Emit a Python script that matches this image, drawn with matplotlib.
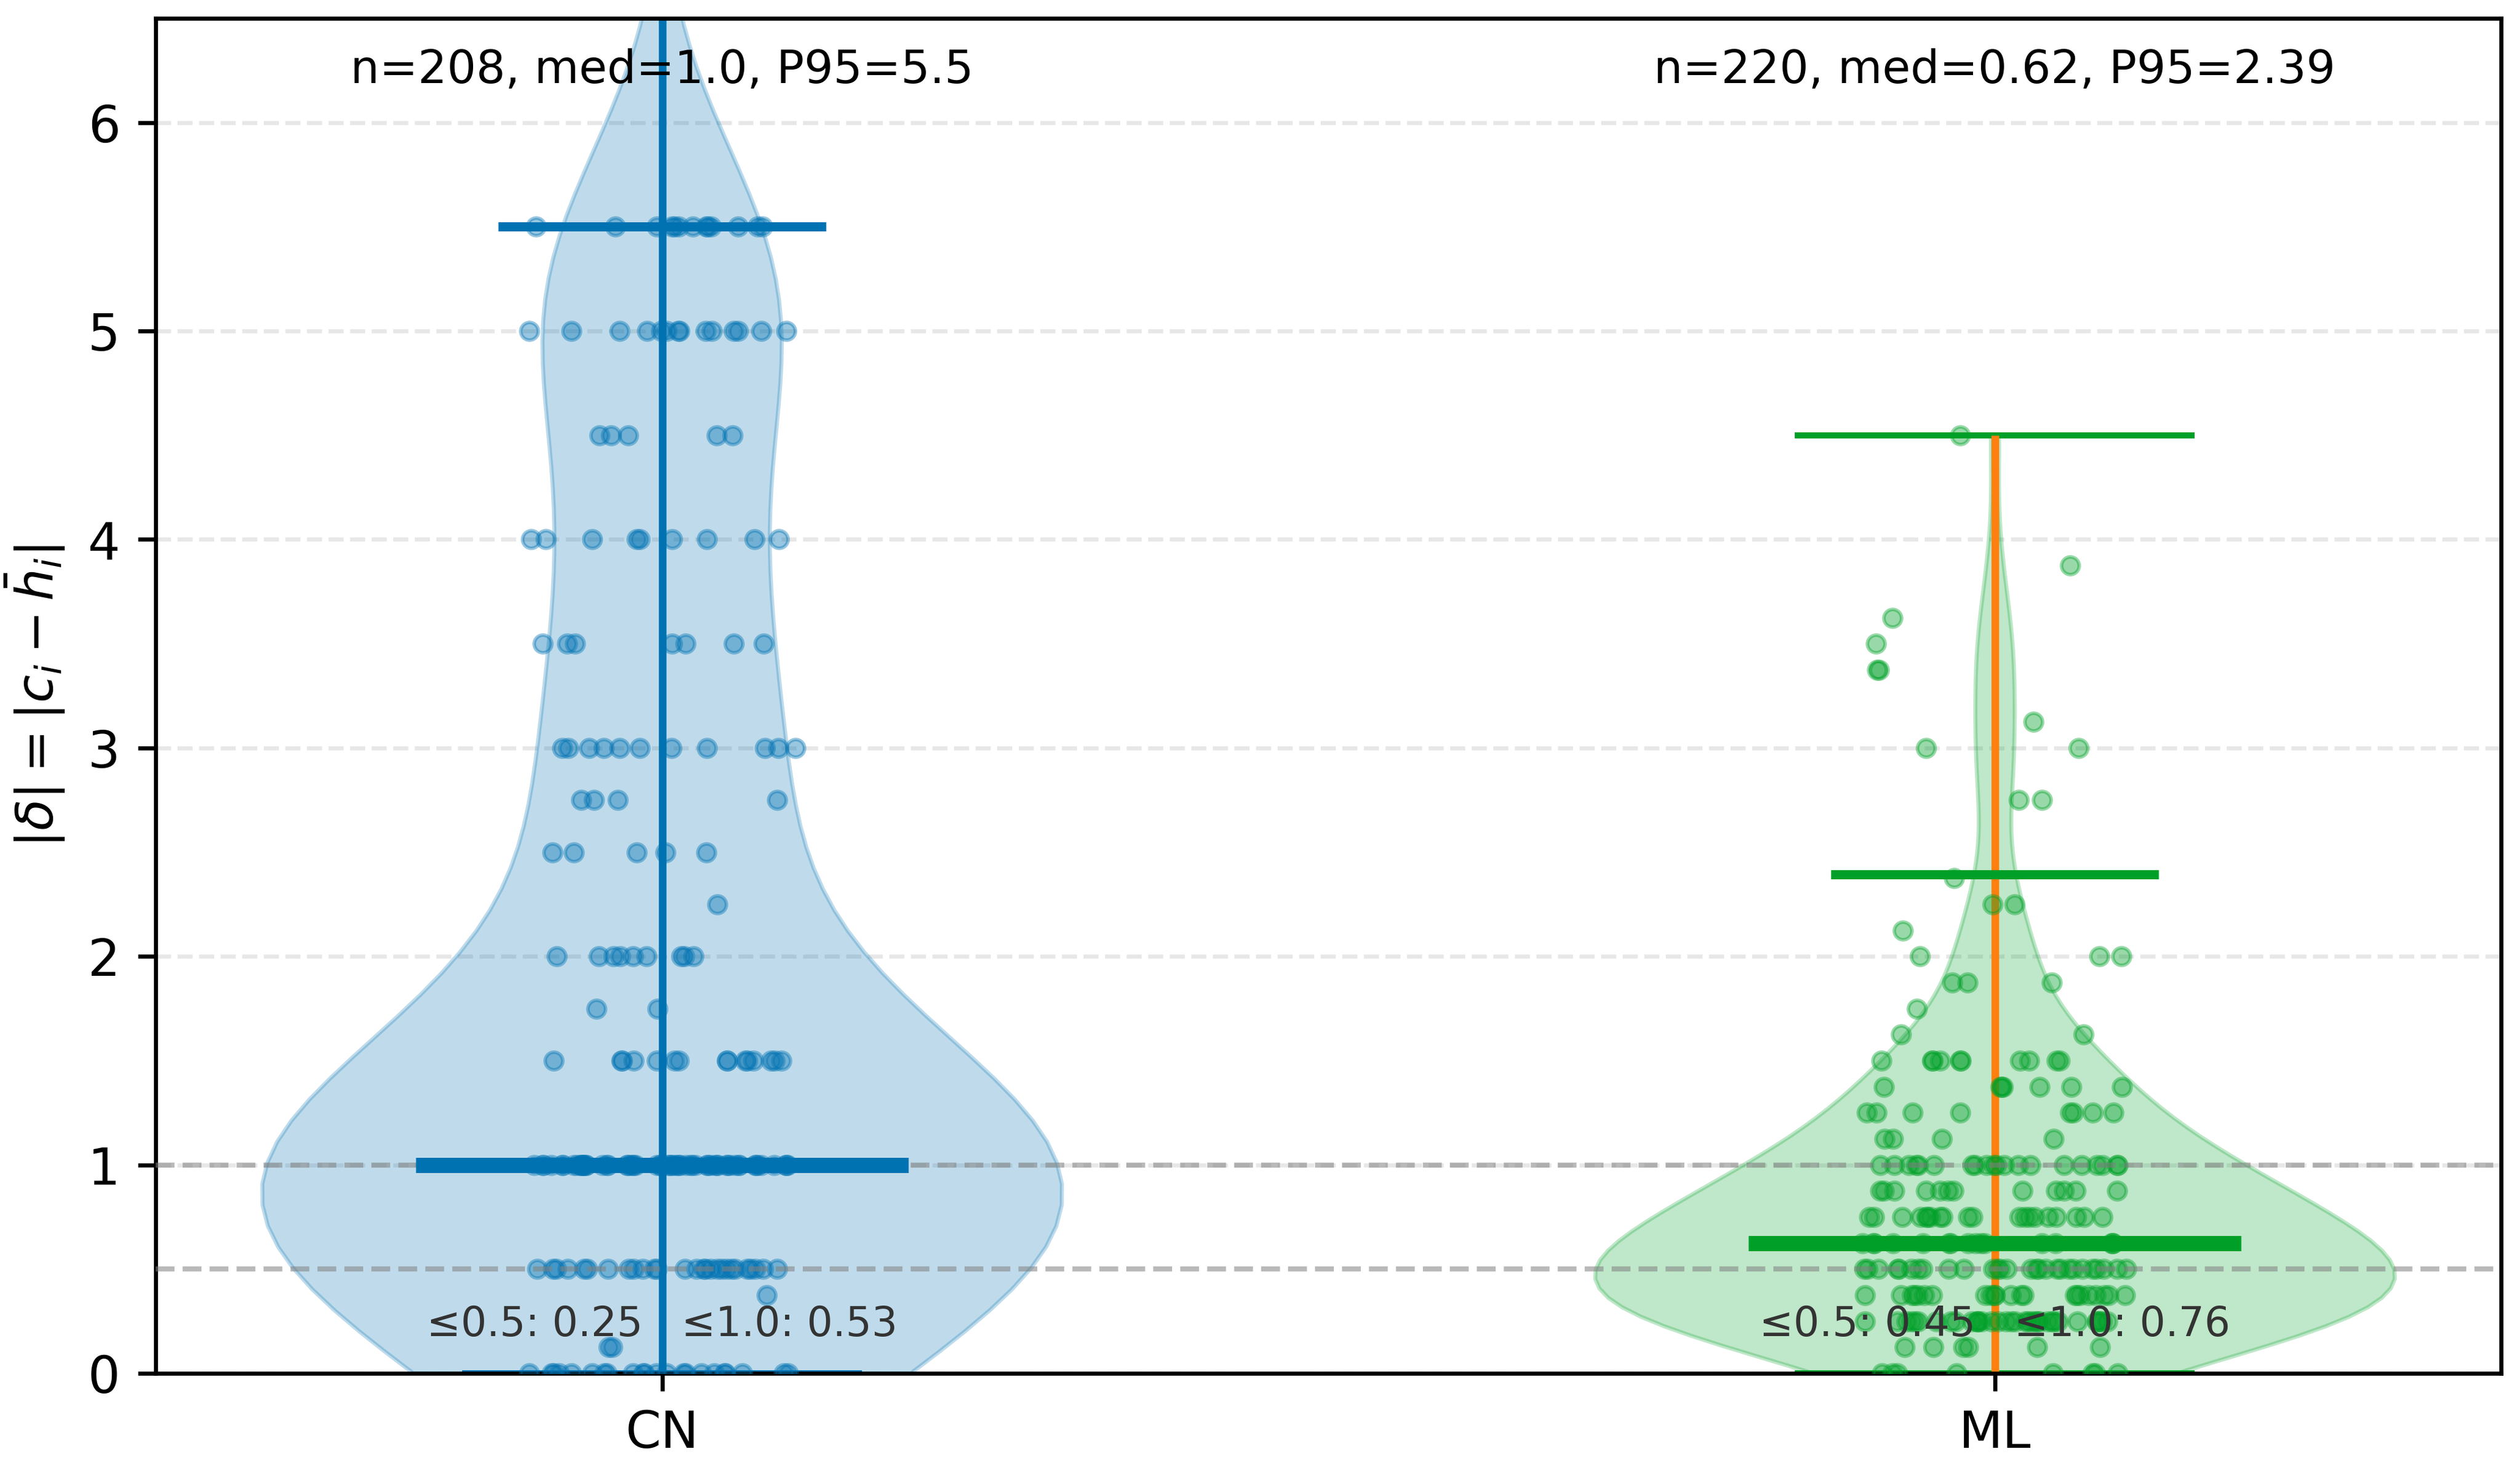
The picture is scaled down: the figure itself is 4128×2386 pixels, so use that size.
import numpy as np
import matplotlib
matplotlib.use('Agg')
import matplotlib.pyplot as plt

####### data ###############################

GROUPS = ['CN', 'ML']

# distinct |delta| values and how many items sit on each one
CN_LEVELS = [0.0, 0.125, 0.375, 0.5, 1.0, 1.5, 1.75, 2.0, 2.25, 2.5, 2.75,
             3.0, 3.5, 4.0, 4.5, 5.0, 5.5, 8.0, 9.0, 10.0]
CN_COUNTS = [22, 2, 1, 27, 58, 15, 2, 9, 1, 5, 4,
             11, 7, 9, 5, 14, 13, 1, 1, 1]

ML_LEVELS = [0.0, 0.125, 0.25, 0.375, 0.5, 0.625, 0.75, 0.875, 1.0, 1.125,
             1.25, 1.375, 1.5, 1.625, 1.75, 1.875, 2.0, 2.125, 2.25, 2.375,
             2.75, 3.0, 3.125, 3.375, 3.5, 3.625, 3.875, 4.5]
ML_COUNTS = [8, 6, 35, 22, 28, 16, 20, 12, 20, 4,
             8, 7, 10, 2, 1, 3, 3, 1, 2, 1,
             2, 2, 1, 2, 1, 1, 1, 1]

THRESHOLDS = [0.5, 1.0]

BLUE = '#0072B2'
GREEN = '#00A028'
ORANGE = '#FF7F0E'
COLORS = [BLUE, GREEN]
BAR_COLORS = [BLUE, ORANGE]

#############  end of data    #################

cn = np.repeat(CN_LEVELS, CN_COUNTS)
ml = np.repeat(ML_LEVELS, ML_COUNTS)
data = [cn, ml]
positions = [1, 2]

fig = plt.figure(figsize=(6.88, 3.97675), dpi=600)
ax = fig.add_subplot()
fig.subplots_adjust(left=0.0618, right=0.9925, top=0.9874, bottom=0.0574)

parts = ax.violinplot(data, positions=positions, widths=0.6,
                      showextrema=True, showmedians=False)
for body, c in zip(parts['bodies'], COLORS):
    body.set_facecolor(c)
    body.set_edgecolor(c)
    body.set_alpha(0.25)
    body.set_linewidth(0.8)
parts['cbars'].set_color(BAR_COLORS)
parts['cbars'].set_linewidth(1.5)
parts['cmaxes'].set_color(COLORS)
parts['cmaxes'].set_linewidth(1.2)
parts['cmins'].set_color(COLORS)
parts['cmins'].set_linewidth(1.2)

# jittered strip of the raw values (jitter only moves points sideways)
rng = np.random.default_rng(3)
for vals, pos, c in zip(data, positions, COLORS):
    xs = pos + rng.uniform(-0.1, 0.1, len(vals))
    ax.scatter(xs, vals, s=12, color=c, alpha=0.4, linewidths=0.7, zorder=3)

for thr in THRESHOLDS:
    ax.axhline(thr, color='gray', ls='--', lw=1.0, alpha=0.55, zorder=3.5)

for vals, pos, c in zip(data, positions, COLORS):
    med = np.median(vals)
    p95 = np.percentile(vals, 95)
    ax.hlines(med, pos - 0.185, pos + 0.185, color=c, lw=3, zorder=4)
    ax.hlines(p95, pos - 0.123, pos + 0.123, color=c, lw=1.8, zorder=4)
    ax.text(pos, 0.978, "n={}, med={}, P95={}".format(len(vals), round(med, 2), round(p95, 2)),
            transform=ax.get_xaxis_transform(), ha='center', va='top', fontsize=9)
    fr = [np.mean(vals <= t) for t in THRESHOLDS]
    ax.text(pos, 0.235, "\u2264{}: {:.2f}   \u2264{}: {:.2f}".format(THRESHOLDS[0], fr[0], THRESHOLDS[1], fr[1]),
            ha='center', va='center', fontsize=8, color='#333333', zorder=5)

ax.set_xticks(positions)
ax.set_xticklabels(GROUPS)
ax.set_xlim(0.62, 2.38)
ax.set_ylim(0, 6.5)
ax.set_ylabel(r'$|\delta| = |c_i - \bar{h}_i|$')
ax.yaxis.grid(True, ls='--', alpha=0.3)
ax.set_axisbelow(True)

plt.savefig('out.png', dpi=600)
